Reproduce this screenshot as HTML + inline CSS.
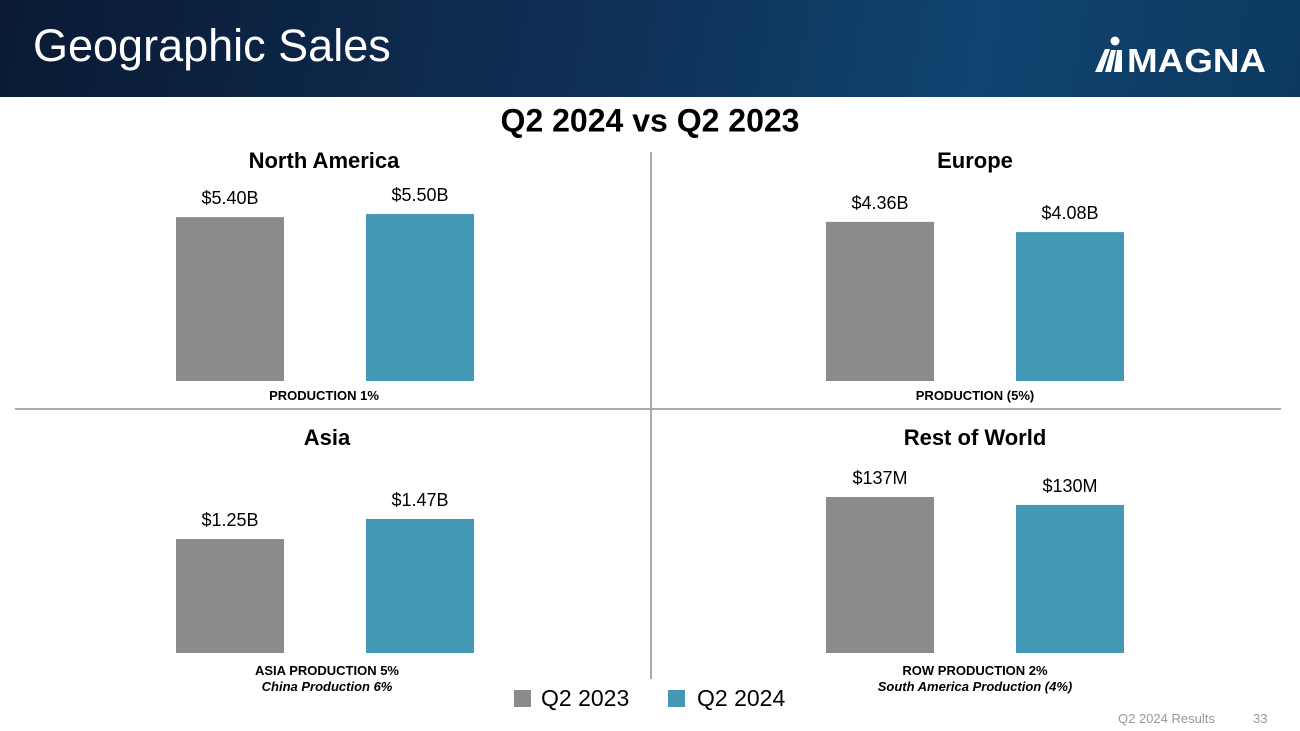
<!DOCTYPE html>
<html><head><meta charset="utf-8"><style>
body{margin:0;width:1300px;height:731px;overflow:hidden;background:#fff;font-family:"Liberation Sans",Arial,sans-serif;position:relative}
#hdr{position:absolute;left:0;top:0;width:1300px;height:97px;background:linear-gradient(100deg,#0a1a33 0%,#0f2f55 45%,#0f4470 75%,#0d3960 100%)}
#title{position:absolute;left:33px;top:20px;color:#fff;font-size:45px}
.t{position:absolute;white-space:nowrap;transform:translate(-50%,-50%)}
</style></head><body>
<div id="hdr"></div>
<div id="title">Geographic Sales</div>
<svg style="position:absolute;left:1093px;top:36px" width="175" height="38">
<circle cx="22" cy="5" r="4.5" fill="#fff"/>
<polygon points="2,36 12,13 17,13 9,36" fill="#fff"/>
<polygon points="12,36 18,14 23,14 18,36" fill="#fff"/>
<polygon points="21,36 24,14 29,14 29,36" fill="#fff"/>
<text x="34" y="36" fill="#fff" font-size="33" font-weight="bold" font-family="Liberation Sans" textLength="139" lengthAdjust="spacingAndGlyphs">MAGNA</text>
</svg>
<div class="t" style="left:650px;top:121px;font-size:32px;font-weight:bold">Q2 2024 vs Q2 2023</div>
<div style="position:absolute;left:650px;top:152px;width:2px;height:527px;background:#aaa"></div>
<div style="position:absolute;left:15px;top:408px;width:1266px;height:2px;background:#aaa"></div>
<svg id="ch" width="1300" height="731" style="position:absolute;left:0;top:0"></svg>
<div>
<div style="position:absolute;left:514px;top:690px;width:17px;height:17px;background:#898b8d"></div>
<div style="position:absolute;left:541px;top:685px;font-size:23px">Q2 2023</div>
<div style="position:absolute;left:668px;top:690px;width:17px;height:17px;background:#4298b5"></div>
<div style="position:absolute;left:697px;top:685px;font-size:23px">Q2 2024</div>
</div>
<div style="position:absolute;left:1118px;top:711px;font-size:13px;color:#999">Q2 2024 Results</div>
<div style="position:absolute;left:1253px;top:711px;font-size:13px;color:#999">33</div>
<script>
const regions=["North America","Europe","Asia","Rest of World"];
const q2023=[5.40,4.36,1.25,137];
const q2024=[5.50,4.08,1.47,130];
const labels2023=["$5.40B","$4.36B","$1.25B","$137M"];
const labels2024=["$5.50B","$4.08B","$1.47B","$130M"];
const axisMax=[6.59,5.48,2.194,175.6];
const notes=["PRODUCTION 1%","PRODUCTION (5%)","ASIA PRODUCTION 5%","ROW PRODUCTION 2%"];
const subnotes=["","","China Production 6%","South America Production (4%)"];
const NS="http://www.w3.org/2000/svg";
const svg=document.getElementById('ch');
const panels=[{cx:324,x0:176,base:381,ty:160,ny:395},{cx:975,x0:826,base:381,ty:160,ny:395},{cx:327,x0:176,base:653,ty:437,ny:670},{cx:975,x0:826,base:653,ty:437,ny:670}];
const PH=200,BW=108,GAP=190;
function txt(x,y,s,size,w,st,name){const t=document.createElementNS(NS,'text');t.setAttribute('x',x);t.setAttribute('y',y);t.setAttribute('text-anchor','middle');t.setAttribute('font-size',size);t.setAttribute('font-family','Liberation Sans');if(w)t.setAttribute('font-weight',w);if(st)t.setAttribute('font-style',st);t.textContent=s;


svg.appendChild(t);}
regions.forEach((r,i)=>{const p=panels[i];
const y=v=>p.base-v/axisMax[i]*PH;
txt(p.cx,p.ty+8,r,22,'bold','', 'panel-title');
[[q2023,labels2023,'#898b8d','bar-q2-2023'],[q2024,labels2024,'#4298b5','bar-q2-2024']].forEach((s,j)=>{
const v=s[0][i],x=p.x0+j*GAP,top=y(v);
const b=document.createElementNS(NS,'rect');b.setAttribute('x',x);b.setAttribute('y',top);b.setAttribute('width',BW);b.setAttribute('height',p.base-top);b.setAttribute('fill',s[2]);


svg.appendChild(b);
txt(x+BW/2,top-13,s[1][i],18,'','', 'value-label');});
txt(p.cx,p.ny+5,notes[i],13,'bold','', 'production-note');
if(subnotes[i])txt(p.cx,p.ny+21,subnotes[i],13,'bold','italic','production-subnote');
});
</script>
</body></html>
